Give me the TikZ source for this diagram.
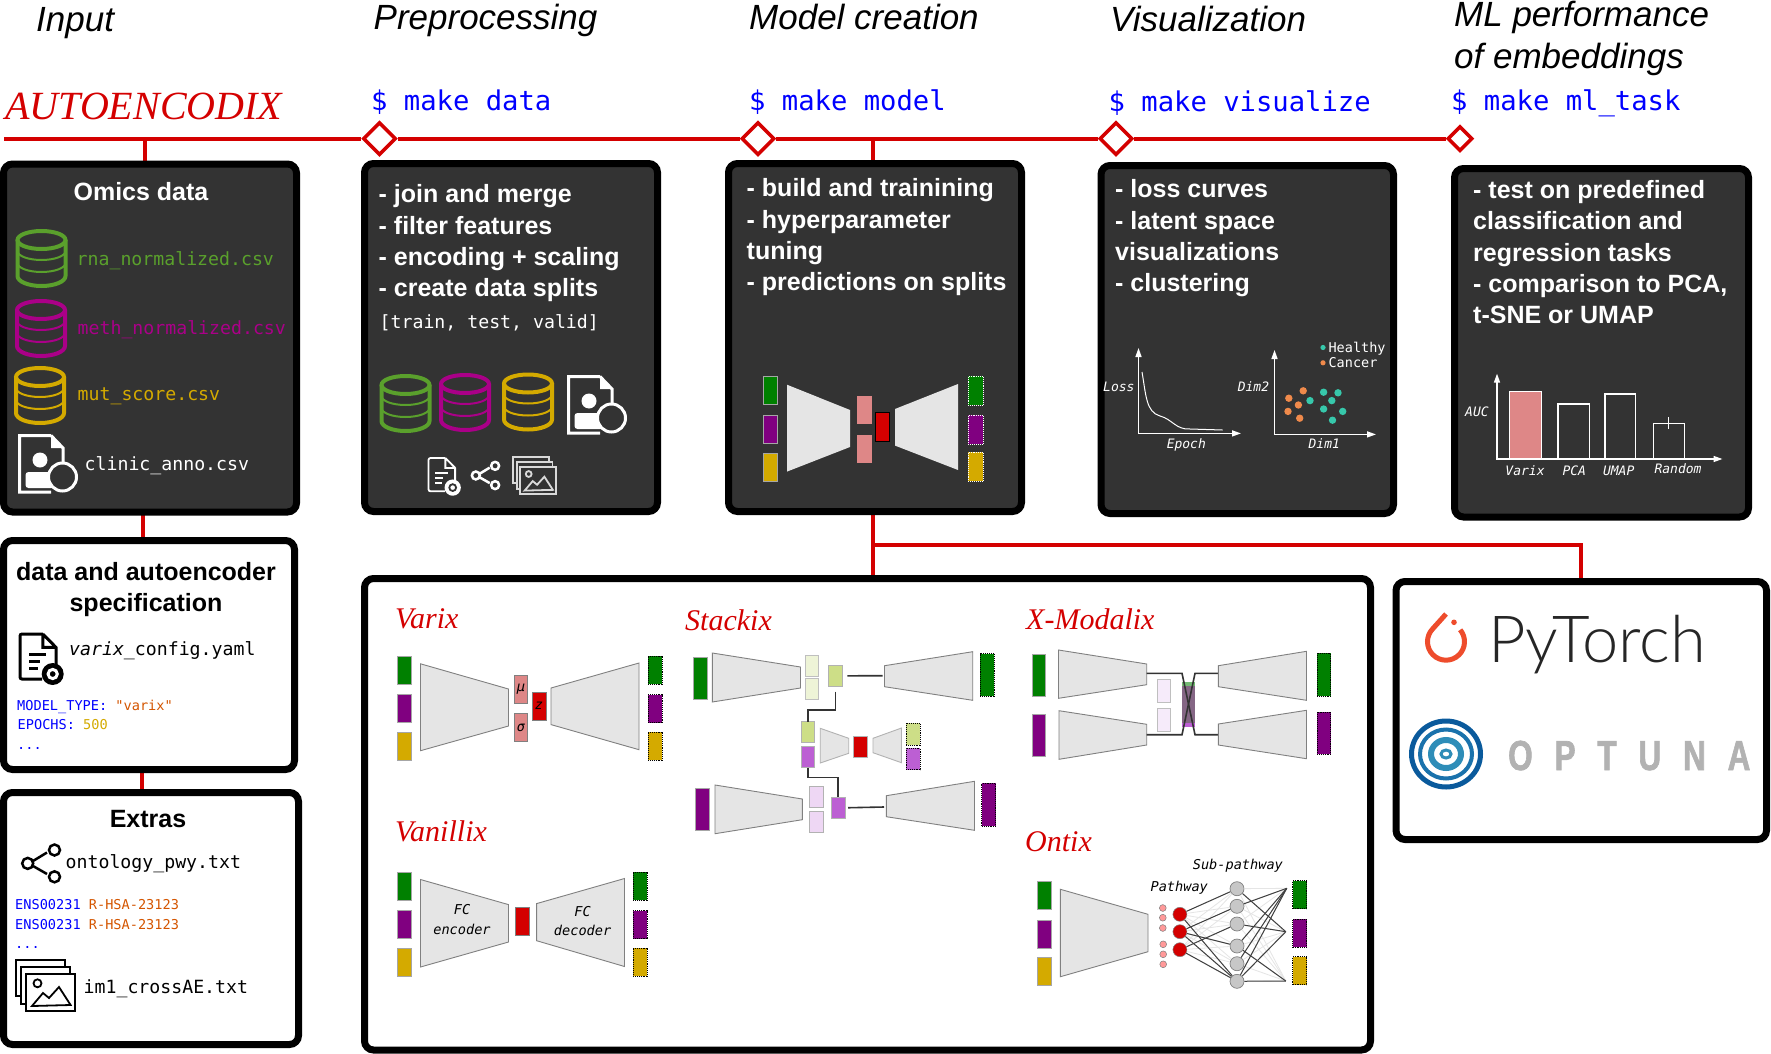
\documentclass[tikz,border=0pt]{standalone}
\usepackage{fontspec}
\setmainfont{Liberation Sans}
\setmonofont{DejaVu Sans Mono}
\newfontfamily\brandfont{Liberation Serif}
\newfontfamily\torchfont{Lato Light}
\usetikzlibrary{arrows.meta,backgrounds,shapes.geometric}

\definecolor{tlRed}{HTML}{D40000}
\definecolor{panelGrey}{HTML}{333333}
\definecolor{omGreen}{HTML}{008000}
\definecolor{omPurple}{HTML}{800080}
\definecolor{omYellow}{HTML}{D4AA00}
\definecolor{csvGreen}{HTML}{5AA02C}
\definecolor{csvPurple}{HTML}{AA0088}
\definecolor{latPink}{HTML}{DE8787}
\definecolor{fuseGreen}{HTML}{CDDE87}
\definecolor{fusePurple}{HTML}{BC5FD3}
\definecolor{paleGreen}{HTML}{EEF4D7}
\definecolor{palePurple}{HTML}{EED7F4}
\definecolor{yamlOrange}{HTML}{D45500}
\definecolor{dotTeal}{HTML}{37C8AB}
\definecolor{dotOrange}{HTML}{F08A4B}
\definecolor{torchOrange}{HTML}{EE4C2C}
\definecolor{ringDark}{HTML}{0A5A9C}
\definecolor{ringMid}{HTML}{1A72AC}
\definecolor{ringLight}{HTML}{2E8DB8}

\tikzset{
  darkpanel/.style={draw=black,fill=panelGrey,line width=7pt,rounded corners=9pt,inner sep=0,outer sep=0},
  whitepanel/.style={draw=black,fill=white,line width=7pt,rounded corners=9pt,inner sep=0,outer sep=0},
  timeline/.style={draw=tlRed,line width=4pt},
  stem/.style={draw=tlRed,line width=3.5pt},
  stepmark/.style={diamond,aspect=1,draw=tlRed,fill=white,line width=3.5pt,inner sep=0,minimum size=#1},
  txt/.style={inner sep=0,anchor=base west},
  hdr/.style={txt,font=\fontsize{35}{42}\selectfont\itshape,align=left},
  cmd/.style={txt,text=blue,font=\fontsize{27.2}{32}\ttfamily\selectfont},
  brand/.style={txt,text=tlRed,font=\fontsize{#1}{#1}\brandfont\itshape\selectfont},
  body/.style={txt,align=left,text=white,font=\fontsize{25}{31.2}\selectfont\bfseries},
  title/.style={inner sep=0,anchor=base,align=center,font=\fontsize{25}{31}\selectfont\bfseries},
  file/.style={txt,font=\fontsize{18.2}{22}\ttfamily\selectfont},
  code/.style={txt,font=\fontsize{13.6}{17}\ttfamily\selectfont},
  tag/.style={inner sep=0,anchor=base,font=\fontsize{13.6}{17}\ttfamily\itshape\selectfont},
  chartlab/.style={tag,text=white,font=\fontsize{13}{16}\ttfamily\itshape\selectfont},
  unit/.style={draw=#1,inner sep=0,outer sep=0,line width=.7pt},
  inbar/.style={unit=gray!70,fill=#1},
  outbar/.style={draw=black,densely dotted,line width=.9pt,inner sep=0,outer sep=0,fill=#1},
  funnelshape/.style={draw=gray,fill=black!10,line width=.9pt},
  funnelsoft/.style={draw=black!30,fill=black!10,line width=.9pt},
  link/.style={draw=black!80,line width=1.6pt},
  edgeoff/.style={draw=black!10,line width=.8pt},
  edgeon/.style={draw=black!75,line width=1pt},
  chartaxis/.style={draw=white,line width=1.4pt,{Triangle[length=9pt,width=6pt]}-{Triangle[length=9pt,width=6pt]}},
  chartbar/.style={draw=white,line width=1.2pt},
}

% block: style, name, x1, y1, x2, y2
\newcommand{\block}[6]{\node[#1,minimum width={(#5-#3)*1pt},minimum height={(#6-#4)*1pt}] (#2) at ({(#3+#5)/2},{(#4+#6)/2}) {};}
% funnel: style, x left, x right, left top, left bottom, right top, right bottom
\newcommand{\funnel}[7]{\draw[#1] (#2,#4) -- (#3,#6) -- (#3,#7) -- (#2,#5) -- cycle;}
\newcommand{\inputs}[5]{%
  \block{inbar=omGreen}{#1A}{#2}{#3}{#2+14}{#3+28}
  \block{inbar=omPurple}{#1B}{#2}{#4}{#2+14}{#4+28}
  \block{inbar=omYellow}{#1C}{#2}{#5}{#2+14}{#5+28}}
\newcommand{\outputs}[5]{%
  \block{outbar=omGreen}{#1A}{#2}{#3}{#2+14}{#3+28}
  \block{outbar=omPurple}{#1B}{#2}{#4}{#2+14}{#4+28}
  \block{outbar=omYellow}{#1C}{#2}{#5}{#2+14}{#5+28}}
% database icon: centre x, top y, colour
\newcommand{\dbicon}[3]{%
  \begin{scope}[shift={(#1,#2)},draw=#3]
    \draw[line width=2pt] (-24,22) arc (180:0:24 and 9) (-24,34) arc (180:0:24 and 9);
    \draw[line width=4pt] (0,11) ellipse [x radius=24,y radius=9];
    \draw[line width=4pt] (-24,11) -- (-24,47) arc (180:0:24 and 10) -- (24,11);
  \end{scope}}
\newcommand{\clinicicon}[2]{%
  \begin{scope}[shift={(#1,#2)},draw=white,line width=3pt]
    \draw (33,1.5) -- (1.5,1.5) -- (1.5,58) -- (33,58) (33,1.5) -- (45,14) -- (45,30);
    \fill[white] (33,1.5) -- (45,14) -- (33,14) -- cycle;
    \fill[white] (22,26) circle (7.5);
    \fill[white,rounded corners=3pt] (7.5,54) -- (7.5,38) -- (36,38) -- (36,54) -- cycle;
    \draw[fill=panelGrey] (44.5,43) circle (14);
  \end{scope}}
% config file icon: x, y, scale, line colour, background, line width
\newcommand{\cfgicon}[6]{%
  \begin{scope}[shift={(#1,#2)},scale=#3,draw=#4,line width=#6pt]
    \draw[rounded corners=2pt] (22.8,0) -- (0,0) -- (0,45) -- (22,45);
    \draw (22.8,0) -- (36,13.4) -- (36,30) (22.8,0) -- (22.8,13.4) -- (36,13.4);
    \draw (9.4,20) -- (26,20) (9.4,27) -- (20,27) (9.4,34) -- (18,34);
    \fill[#4] (32.7,40) circle (11);
    \draw[#5,line width=#6pt] (32.7,40) circle (4.6);
  \end{scope}}
\newcommand{\shareicon}[4]{%
  \begin{scope}[shift={(#1,#2)},scale=#3,draw=#4,line width=2.5pt]
    \draw (26,8.5) -- (12,17) (12,22) -- (26,30);
    \draw (33.5,6) circle (5.5) (6.7,19.4) circle (5.5) (33.5,32.8) circle (5.5);
  \end{scope}}
% image stack icon: x, y, scale, line colour, background
\newcommand{\imgicon}[5]{%
  \begin{scope}[shift={(#1,#2)},scale=#3,draw=#4,line width=1.8pt]
    \draw[fill=#5] (0,0) rectangle (49,36);
    \draw[fill=#5] (5,7) rectangle (54,44);
    \draw[fill=#5] (10,14) rectangle (59,51);
    \draw (21.5,23.3) circle (4);
    \draw (16,46) -- (27,33) -- (33,38) -- (43,27) -- (54.6,45) -- cycle;
  \end{scope}}

\begin{document}
\begin{tikzpicture}[x=1pt,y=-1pt]
  \useasboundingbox (0,0) rectangle (1771,1054);

  %% panels
  \block{darkpanel}{omicsBox}{3.5}{164}{296.5}{512}
  \block{darkpanel}{prepBox}{364.5}{163.5}{657.5}{511.5}
  \block{darkpanel}{modelBox}{728.5}{163.5}{1021.5}{511.5}
  \block{darkpanel}{vizBox}{1101}{165.5}{1393.5}{513.5}
  \block{darkpanel}{mlBox}{1454.5}{168.5}{1748.5}{517}
  \block{whitepanel}{specBox}{3.5}{540.5}{294.5}{769.5}
  \block{whitepanel}{extraBox}{3.5}{792.5}{298.5}{1044.5}
  \block{whitepanel}{zooBox}{364.5}{578.5}{1370.5}{1050}
  \block{whitepanel}{libBox}{1396}{581.5}{1766.5}{839.5}

  %% timeline
  \coordinate (lineStart) at (4,138.6);
  \node[stepmark=33pt] (dataStep) at (379.5,138.6) {};
  \node[stepmark=33pt] (modelStep) at (758,138.6) {};
  \node[stepmark=33pt] (vizStep) at (1116,138.6) {};
  \node[stepmark=25pt] (mlStep) at (1460,138.6) {};
  \draw[timeline] (lineStart) -- (dataStep) -- (modelStep) -- (vizStep) -- (mlStep);
  \coordinate (inputTap) at (145,138.6);
  \coordinate (specTap) at (143,512);
  \coordinate (extraTap) at (142,769);
  \coordinate (modelTap) at (873,138.6);
  \coordinate (zooTap) at (873,512);
  \coordinate (libTap) at (1581,545);
  \begin{scope}[on background layer]
    \draw[stem,line width=4pt] (inputTap) -- (inputTap |- omicsBox.north);
    \draw[stem] (specTap) -- (specTap |- specBox.north);
    \draw[stem,line width=4pt] (extraTap) -- (extraTap |- extraBox.north);
    \draw[stem] (modelTap) -- (modelTap |- modelBox.north);
    \draw[stem] (zooTap) -- (zooTap |- zooBox.north);
    \draw[stem] (zooTap |- libTap) -- (libTap) -- (libTap |- libBox.north);
  \end{scope}

  %% headers
  \node[hdr] (hdrInput) at (36,31.5) {Input};
  \node[hdr] (hdrPrep) at (373.5,29.5) {Preprocessing};
  \node[hdr] (hdrModel) at (749,29.5) {Model creation};
  \node[hdr] (hdrViz) at (1110,31.5) {Visualization};
  \node[hdr] (hdrMl) at (1454,68.5) {ML performance\\of embeddings};
  \node[brand=40] (logoName) at (5,120) {AUTOENCODIX};
  \node[cmd] (cmdData) at (371,111) {\$ make data};
  \node[cmd] (cmdModel) at (749,111) {\$ make model};
  \node[cmd] (cmdViz) at (1108.5,111.5) {\$ make visualize};
  \node[cmd] (cmdMl) at (1451,111) {\$ make ml\_task};

  %% input
  \node[title,text=white] (omicsTitle) at (141,200) {Omics data};
  \dbicon{41.5}{229}{csvGreen}
  \dbicon{41}{299}{csvPurple}
  \dbicon{40}{366}{omYellow}
  \clinicicon{18}{434}
  \node[file,text=csvGreen] (fileRna) at (76.5,265) {rna\_normalized.csv};
  \node[file,text=csvPurple] (fileMeth) at (77.5,334.7) {meth\_normalized.csv};
  \node[file,text=omYellow] (fileMut) at (77.5,400.6) {mut\_score.csv};
  \node[file,text=white] (fileClinic) at (84.5,470.5) {clinic\_anno.csv};

  \node[title] (specTitle) at (146,611) {data and autoencoder\\specification};
  \cfgicon{20}{634}{1}{black}{white}{3}
  \node[file] (fileCfg) at (69,655) {\textit{varix}\_config.yaml};
  \node[code,text=blue] (yamlType) at (17,710.6) {MODEL\_TYPE: \textcolor{yamlOrange}{"varix"}};
  \node[code,text=blue] (yamlEpochs) at (17.5,729.7) {EPOCHS: \textcolor{omYellow}{500}};
  \node[code,text=blue] (yamlMore) at (17,749) {...};

  \node[title] (extraTitle) at (148,827.6) {Extras};
  \shareicon{21}{844}{1}{black}
  \node[file] (fileOnto) at (65.5,868) {ontology\_pwy.txt};
  \node[code,text=blue] (ontoRowA) at (15,909.6) {ENS00231 \textcolor{yamlOrange}{R-HSA-23123}};
  \node[code,text=blue] (ontoRowB) at (15,929) {ENS00231 \textcolor{yamlOrange}{R-HSA-23123}};
  \node[code,text=blue] (ontoMore) at (15,948.7) {...};
  \imgicon{16}{960}{1}{black}{white}
  \node[file] (fileImg) at (83.5,993) {im1\_crossAE.txt};

  %% preprocessing
  \node[body] (prepText) at (378.5,296.5) {- join and merge\\- filter features\\- encoding + scaling\\- create data splits};
  \node[file,text=white] (prepSplits) at (379.5,328.6) {[train, test, valid]};
  \dbicon{405.5}{374}{csvGreen}
  \dbicon{465}{373}{csvPurple}
  \dbicon{528}{372.5}{omYellow}
  \clinicicon{567}{375}
  \cfgicon{428.5}{458}{.74}{white}{panelGrey}{1.8}
  \shareicon{471}{461.5}{.72}{white}
  \imgicon{513}{457}{.73}{white!85!black}{panelGrey}

  %% model creation
  \node[body] (modelText) at (746.5,290.5) {- build and trainining\\- hyperparameter\\tuning\\- predictions on splits};
  \inputs{modelIn}{763}{376}{415.5}{453}
  \funnel{draw=none,fill=black!10}{787}{850}{384.7}{471.6}{410}{447}
  \block{unit=latPink,fill=latPink}{modelMu}{857}{396}{871}{423}
  \block{unit=latPink,fill=latPink}{modelSigma}{857}{435}{871}{462.5}
  \block{unit=black,fill=tlRed}{modelZ}{875.5}{412}{889}{441}
  \funnel{draw=none,fill=black!10}{895}{958}{409}{445.6}{384}{470}
  \block{outbar=omGreen,draw=white}{modelOutA}{968.4}{376}{983}{405}
  \block{outbar=omPurple,draw=white}{modelOutB}{968.4}{415}{983}{444}
  \block{outbar=omYellow,draw=white}{modelOutC}{968.4}{452}{983}{481}

  %% visualization
  \node[body] (vizText) at (1115,291.5) {- loss curves\\- latent space\\visualizations\\- clustering};
  \coordinate (lossTop) at (1138.5,348);
  \coordinate (lossOrigin) at (1138.5,433.4);
  \coordinate (lossRight) at (1241,433.4);
  \draw[chartaxis] (lossTop) -- (lossOrigin) -- (lossRight);
  \draw[white,line width=1pt] (1142,372) .. controls (1146,395) and (1146,412) .. (1160,416) .. controls (1172,419) and (1176,430) .. (1190,429) -- (1222.5,430);
  \node[chartlab,anchor=base west] (lossY) at (1103,391) {Loss};
  \node[chartlab] (lossX) at (1186.3,448) {Epoch};
  \coordinate (dimTop) at (1274.5,350);
  \coordinate (dimOrigin) at (1274.5,434.4);
  \coordinate (dimRight) at (1376,434.4);
  \draw[chartaxis] (dimTop) -- (dimOrigin) -- (dimRight);
  \node[chartlab,anchor=base west] (dimY) at (1237.6,391.5) {Dim2};
  \node[chartlab] (dimX) at (1324.3,448) {Dim1};
  \foreach \px/\py in {1288.8/398.2,1303.2/390.8,1298.4/405,1288/411.4,1299.7/418.2}
    \fill[dotOrange] (\px,\py) circle (3.7);
  \foreach \px/\py in {1310/400.6,1323.6/392.2,1338/392.8,1331.8/400.6,1323.6/409,1342.7/411.4,1332.5/420.2}
    \fill[dotTeal] (\px,\py) circle (3.7);
  \fill[dotTeal] (1323,347.5) circle (2.6);
  \fill[dotOrange] (1323,362.8) circle (2.6);
  \node[code,text=white,font=\fontsize{13.5}{16}\ttfamily\selectfont] (keyHealthy) at (1328.4,352) {Healthy};
  \node[code,text=white,font=\fontsize{13.5}{16}\ttfamily\selectfont] (keyCancer) at (1328.4,367) {Cancer};

  %% ml performance
  \node[body] (mlText) at (1473,323.5) {- test on predefined\\classification and\\regression tasks\\- comparison to PCA,\\t-SNE or UMAP};
  \coordinate (aucTop) at (1497,373.6);
  \coordinate (aucOrigin) at (1497,459);
  \coordinate (aucRight) at (1722.5,459);
  \draw[chartbar,fill=latPink] (1509.4,459) rectangle (1541.5,391.5);
  \draw[chartbar] (1558,459) rectangle (1589.3,404);
  \draw[chartbar] (1605,459) rectangle (1635.8,394);
  \draw[chartbar] (1653.5,459) rectangle (1684.3,423.3);
  \draw[white,line width=1pt] (1668,416.8) -- (1668,428.7);
  \draw[chartaxis] (aucTop) -- (aucOrigin) -- (aucRight);
  \node[chartlab,anchor=base west] (aucY) at (1465,416.8) {AUC};
  \node[chartlab] (aucVarix) at (1525,475) {Varix};
  \node[chartlab] (aucPca) at (1574.3,475) {PCA};
  \node[chartlab] (aucUmap) at (1618.7,475) {UMAP};
  \node[chartlab] (aucRandom) at (1678,473.3) {Random};

  %% varix
  \node[brand=30] (nameVarix) at (395,628.7) {Varix};
  \inputs{varixIn}{397.3}{656}{694.5}{732}
  \funnel{funnelshape}{420.5}{508.5}{663.8}{750.7}{689}{726}
  \block{unit=gray,fill=latPink}{varixMu}{514}{675}{527.7}{703}
  \block{unit=gray,fill=latPink}{varixSigma}{514}{713.6}{527.7}{741.7}
  \block{unit=gray,fill=tlRed}{varixZ}{532}{692}{546}{720}
  \node[tag,anchor=center] (labelMu) at (varixMu) {μ};
  \node[tag,anchor=center] (labelSigma) at (varixSigma) {σ};
  \node[tag,anchor=center] (labelZ) at (varixZ) {z};
  \funnel{funnelshape}{551}{639}{688}{724.6}{663}{749.7}
  \outputs{varixOut}{648}{656}{694.5}{732}

  %% vanillix
  \node[brand=30] (nameVanillix) at (395,841.7) {Vanillix};
  \inputs{vanIn}{397.3}{872}{910.6}{948}
  \funnel{funnelshape}{420.5}{508.5}{879.5}{967}{904.6}{942}
  \block{unit=gray,fill=tlRed}{vanZ}{515.6}{907}{529.5}{935}
  \funnel{funnelshape}{536.6}{624.5}{903.6}{940.7}{878.5}{966.5}
  \outputs{vanOut}{633}{872}{910.6}{948}
  \node[tag] (vanEnc) at (462,914.6) {FC};
  \node[tag] (vanEncB) at (462,934) {encoder};
  \node[tag] (vanDec) at (582.6,916) {FC};
  \node[tag] (vanDecB) at (582.6,935.7) {decoder};

  %% stackix
  \node[brand=30] (nameStackix) at (685,630) {Stackix};
  \block{inbar=omGreen}{stackInA}{693}{657}{707}{699}
  \funnel{funnelshape}{712.3}{800.5}{653}{702}{667}{688}
  \block{unit=black!25,fill=paleGreen}{stackPaleA}{805}{655}{818.4}{676}
  \block{unit=black!25,fill=paleGreen}{stackPaleB}{805}{678}{818.4}{699}
  \block{unit=black!30,fill=fuseGreen}{stackFuseA}{828.5}{665}{842.3}{686.7}
  \coordinate (stackDecA) at (882.7,675.7);
  \draw[link,shorten <=5pt] (stackFuseA.east) -- (stackDecA);
  \funnel{funnelshape}{884.5}{972.7}{665.7}{686.7}{651.7}{700.3}
  \block{outbar=omGreen}{stackOutA}{980}{653.7}{994}{696.3}
  \block{unit=black!30,fill=fuseGreen}{stackMidA}{801.4}{721.7}{814.7}{742.7}
  \block{unit=black!30,fill=fusePurple}{stackMidB}{801.4}{746.3}{814.7}{767.7}
  \funnel{funnelsoft}{820.2}{848.7}{728.3}{763}{738.3}{753.3}
  \block{unit=black!30,fill=tlRed}{stackZ}{853.3}{736.3}{867}{757.7}
  \funnel{funnelsoft}{873}{901.5}{738.3}{752.7}{728}{762.7}
  \block{outbar=fuseGreen}{stackOutMidA}{906}{723.3}{920}{745}
  \block{outbar=fusePurple}{stackOutMidB}{906}{748.3}{920}{769.7}
  \block{inbar=omPurple}{stackInB}{695}{788.3}{709}{830.7}
  \funnel{funnelshape}{715}{802.3}{785}{833.7}{799}{819.7}
  \block{unit=black!30,fill=palePurple}{stackPaleC}{809.7}{786.7}{823.5}{807.3}
  \block{unit=black!30,fill=palePurple}{stackPaleD}{809.7}{811.7}{823.5}{832.3}
  \block{unit=black!30,fill=fusePurple}{stackFuseB}{831.3}{797.3}{845}{818.3}
  \coordinate (stackDecB) at (884,807);
  \draw[link,shorten <=3pt] (stackFuseB.east) -- (stackDecB);
  \funnel{funnelshape}{886.3}{974.5}{795.7}{816.7}{781.3}{830.3}
  \block{outbar=omPurple}{stackOutB}{981.9}{783.3}{995.6}{826}
  \draw[link,shorten <=5pt] (stackFuseA.south) -- ++(0,23.3) -| (stackMidA.north);
  \draw[link] (stackMidB.south) -- ++(0,9.6) -| (stackFuseB.north);

  %% x-modalix
  \node[brand=30] (nameXmodalix) at (1026,629) {X-Modalix};
  \block{inbar=omGreen}{xmInA}{1032}{654}{1045.7}{696}
  \funnel{funnelshape}{1058.5}{1146.7}{650}{698.3}{664}{684.7}
  \block{inbar=omPurple}{xmInB}{1032.3}{714.3}{1045.7}{756.3}
  \funnel{funnelshape}{1059}{1146.7}{710.7}{759.3}{724.3}{745}
  \block{unit=black!25,fill=palePurple!50!white}{xmPaleA}{1157.3}{679.3}{1170.6}{702.7}
  \block{unit=black!25,fill=palePurple!50!white}{xmPaleB}{1157.3}{708.3}{1170.6}{731.7}
  \block{draw=none,inner sep=0,outer sep=0,fill=omGreen!55!white}{xmMixTop}{1182}{681.7}{1195.3}{686}
  \block{draw=none,inner sep=0,outer sep=0,fill=fusePurple}{xmMixBottom}{1182}{722.7}{1195.3}{726.7}
  \block{draw=none,inner sep=0,outer sep=0,fill=omPurple!40!black!60!white}{xmMix}{1182}{686}{1195.3}{722.7}
  \coordinate (xmEncA) at (1146.7,673.3);
  \coordinate (xmEncB) at (1146.7,734.7);
  \coordinate (xmDecA) at (1218.3,673.3);
  \coordinate (xmDecB) at (1218.3,734.7);
  \draw[link] (xmEncA) -- (1182,673.3) -- (1195,734.7) -- (xmDecB);
  \draw[link] (xmEncB) -- (1182,734.7) -- (1195,673.3) -- (xmDecA);
  \funnel{funnelshape}{1218.3}{1306.5}{665.7}{686.7}{651.3}{700.3}
  \funnel{funnelshape}{1218.3}{1306.5}{724}{745}{710.3}{758.7}
  \block{outbar=omGreen}{xmOutA}{1317}{653.3}{1330.8}{696}
  \block{outbar=omPurple}{xmOutB}{1317}{712}{1330.8}{754.3}

  %% ontix
  \node[brand=30] (nameOntix) at (1025,851.7) {Ontix};
  \node[tag,anchor=base west] (labelSub) at (1192.6,869.3) {Sub-pathway};
  \node[tag,anchor=base west] (labelPath) at (1150.4,891.7) {Pathway};
  \inputs{ontIn}{1037}{881.7}{920.3}{957.7}
  \funnel{funnelshape}{1060.4}{1148}{889.3}{976.7}{914.3}{951.7}
  \foreach \px/\py in {1162.8/908,1162.8/917.7,1162.8/928,1163.2/944.3,1163.2/954.3,1163.2/964.3}
    \draw[draw=gray,fill=red!40!white,line width=.5pt] (\px,\py) circle (3.4);
  \foreach \py [count=\i] in {914.3,931.7,949.7}
    \node[circle,draw=gray,fill=tlRed,inner sep=0,minimum size=14pt,line width=.5pt] (pathNode\i) at (1179.9,\py) {};
  \foreach \py [count=\i] in {888.7,906.3,924,946,963.7,981.3}
    \node[circle,draw=gray,fill=black!22,inner sep=0,minimum size=14pt,line width=.7pt] (subNode\i) at (1237,\py) {};
  \coordinate (ontOutA) at (1286.7,888.3);
  \coordinate (ontOutB) at (1285.8,931.7);
  \coordinate (ontOutC) at (1285.8,981);
  \foreach \a in {1,2,3} \foreach \b in {1,...,6} \draw[edgeoff] (pathNode\a) -- (subNode\b);
  \foreach \b in {1,...,6} \foreach \c in {A,B,C} \draw[edgeoff] (subNode\b) -- (ontOut\c);
  \foreach \a/\b in {1/1,1/6,2/2,2/4,2/6,3/3,3/6} \draw[edgeon] (pathNode\a) -- (subNode\b);
  \foreach \b/\c in {1/B,2/A,3/B,4/A,4/C,5/A,6/A,6/B,6/C} \draw[edgeon] (subNode\b) -- (ontOut\c);
  \outputs{ontOut}{1292.7}{880.7}{919.3}{956.7}

  %% libraries
  \draw[draw=torchOrange,line width=5pt] (1446,614) -- (1432.9,628.6) arc (225:-40:18.5);
  \fill[torchOrange] (1454,622.3) circle (2.8);
  \node[txt,text=black!85,font=\fontsize{65}{70}\torchfont\selectfont] (libTorch) at (1488,662.3) {PyTorch};
  \draw[draw=ringDark,line width=5pt] (1446,754) ellipse [x radius=34.5,y radius=33];
  \draw[draw=ringMid,line width=4pt] (1446,754) ellipse [x radius=26,y radius=24.5];
  \draw[draw=ringLight,line width=6pt] (1446,754) ellipse [x radius=15,y radius=14];
  \draw[draw=ringLight,line width=3pt] (1446,754) ellipse [x radius=5,y radius=4];
  \node[txt,text=black!30,font={\fontspec{Liberation Sans}[FakeStretch=.75,FakeBold=1.5,LetterSpace=52]\fontsize{42}{42}\selectfont\bfseries}] (libOptuna) at (1508,770) {OPTUNA};
\end{tikzpicture}
\end{document}
